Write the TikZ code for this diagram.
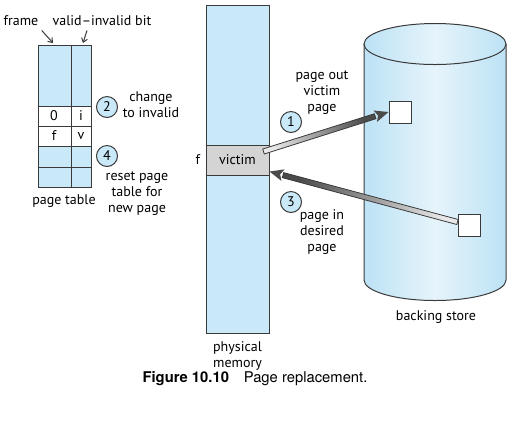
\documentclass[tikz,border=0pt]{standalone}
\usepackage{fontspec}
\setsansfont{PT Sans}
\newfontfamily\capfont{TeX Gyre Heros}
\usepackage{tikz}
\usetikzlibrary{positioning,calc,arrows.meta}
\definecolor{vmBlue}{HTML}{C9E8F8}
\definecolor{vmDisk}{HTML}{BCE2F5}
\definecolor{vmDiskHi}{HTML}{E6F4FB}
\definecolor{vmLine}{HTML}{3A3A3A}
\definecolor{vmVictim}{HTML}{D4D4D4}
\definecolor{vmArrLight}{HTML}{E8E8E8}
\definecolor{vmArrDark}{HTML}{4A4A4A}
\tikzset{
    vmText/.style={
        font=\sffamily\fontsize{7}{8}\selectfont,
        align=center,
        inner sep=0pt
    },
    % Boxes
    memBox/.style={rectangle, draw=vmLine, line width=0.5pt, fill=vmBlue,
        minimum width=31.5pt, inner sep=0pt, font=\sffamily\fontsize{7}{8}\selectfont},
    diskBlock/.style={rectangle, draw=vmLine, line width=0.5pt, fill=white,
        minimum size=11pt, inner sep=0pt},
    stepCircle/.style={circle, draw=vmLine, line width=0.5pt, fill=vmBlue,
        minimum size=10.5pt, inner sep=0pt, font=\sffamily\fontsize{7}{8}\selectfont},
    % Lines
    ptLine/.style={draw=vmLine, line width=0.5pt},
    tagArrow/.style={-{Straight Barb[length=2pt,width=3pt]}, draw=vmLine, line width=0.5pt}
}
% wide shaded transfer arrow: tail, tip, shading angle
\newcommand{\swapArrow}[3]{%
  \coordinate (sa-h) at ($(#2)!7pt!(#1)$);
  \shade[draw=vmLine, line width=0.4pt, top color=vmArrDark, bottom color=vmArrLight, shading angle=#3]
    ($(#1)!1.3pt!90:(#2)$) -- ($(sa-h)!1.3pt!90:(#2)$) -- ($(sa-h)!1.3pt!-90:(#2)$) -- ($(#1)!1.3pt!-90:(#2)$) -- cycle;
  \fill[vmArrDark] ($(sa-h)!3pt!-90:(#2)$) -- (#2) -- ($(sa-h)!3pt!90:(#2)$) -- ($(sa-h)!1.5pt!(#2)$) -- cycle;
}

\begin{document}
\begin{tikzpicture}[x=0.5pt, y=0.5pt]
\useasboundingbox (0,0) rectangle (510,-420);

% page table
\path[fill=vmBlue] (38,-45) rectangle (91,-187);
\path[fill=white] (38,-106) rectangle (91,-146);
\draw[ptLine] (38,-45) rectangle (91,-187);
\draw[ptLine] (71,-45) -- (71,-187);
\foreach \y in {106,126,146,167}
    \draw[ptLine] (38,-\y) -- (91,-\y);
\node[vmText] (c0) at (54,-116) {0};
\node[vmText] (ci) at (81,-116) {i};
\node[vmText] (cf) at (54,-136) {f};
\node[vmText] (cv) at (81,-136) {v};
\node[vmText] (ptlbl) at (64,-201) {page table};

\node[vmText] (framelbl) at (21,-21) {frame};
\node[vmText] (bitlbl) at (102,-21) {valid--invalid bit};
\coordinate (frametop) at (53,-43);
\coordinate (bittop) at (83,-43);
\draw[tagArrow] ($(framelbl.south east)+(3,-4)$) -- (frametop);
\draw[tagArrow] ($(bitlbl.south)+(-15,-4)$) -- (bittop);

\node[stepCircle] (s2) at (107,-107) {2};
\node[vmText] (s2lbl) at (151,-105) {change\\to invalid};
\node[stepCircle] (s4) at (107,-156) {4};
\node[vmText] (s4lbl) at (137,-194) {reset page\\table for\\new page};

% physical memory
\node[memBox, minimum height=164pt] (mem) at (237.5,-169) {};
\node[memBox, fill=vmVictim, minimum height=15pt] (victim) at (237.5,-160) {victim};
\node[vmText, left=2.5pt of victim] (flbl) {f};
\node[vmText, below=4pt of mem] (memlbl) {physical\\memory};

% backing store
\shade[left color=vmDisk, right color=vmDisk, middle color=vmDiskHi]
    (364,-44) -- (364,-280) arc[start angle=180, end angle=360, x radius=71, y radius=20.5]
    -- (506,-44) -- cycle;
\shade[left color=vmDisk, right color=vmDisk, middle color=vmDiskHi]
    (435,-44) ellipse[x radius=71, y radius=20.5];
\draw[ptLine] (435,-44) ellipse[x radius=71, y radius=20.5];
\draw[ptLine] (364,-44) -- (364,-280) arc[start angle=180, end angle=360, x radius=71, y radius=20.5] -- (506,-44);
\node[vmText] (disklbl) at (436,-317) {backing store};

\node[diskBlock] (blk1) at (400,-112) {};
\node[diskBlock] (blk2) at (469,-225) {};

% page out / page in
\coordinate (outtail) at ($(victim.north east)+(-6,-7)$);
\coordinate (intail) at ($(blk2.west)+(0,3)$);
\coordinate (intip) at ($(victim.south east)+(0,4)$);
\swapArrow{outtail}{blk1.west}{-72.4}
\swapArrow{intail}{intip}{74.9}

\node[stepCircle] (s1) at (291,-122) {1};
\node[vmText] (s1lbl) at (322,-93) {page out\\victim\\page};
\node[stepCircle] (s3) at (291,-202) {3};
\node[vmText] (s3lbl) at (322,-232) {page in\\desired\\page};

% caption
\node[font=\capfont\fontsize{7.4}{9}\selectfont, inner sep=0pt] (cap) at (255,-379)
    {\textbf{Figure 10.10}\quad Page replacement.};
\end{tikzpicture}
\end{document}
